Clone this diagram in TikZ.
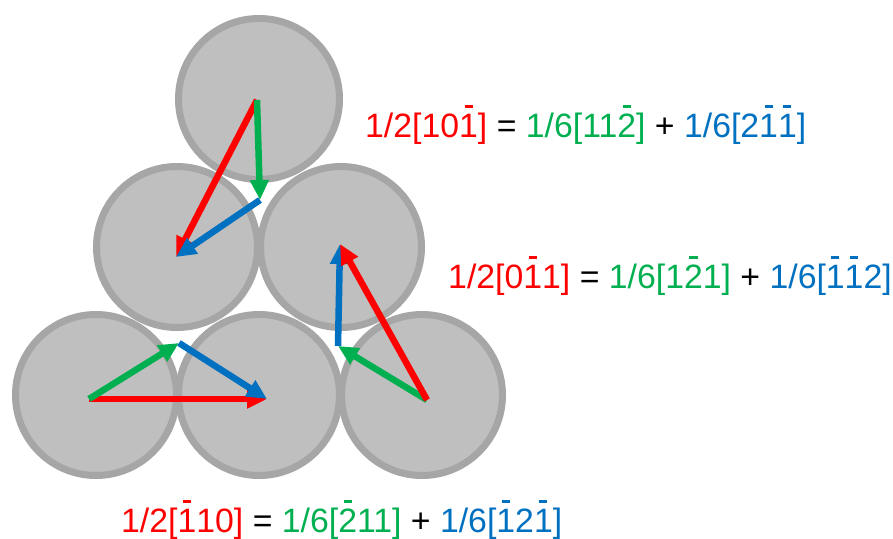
\documentclass[tikz,border=0pt]{standalone}
\usepackage{fontspec}
\setmainfont{Liberation Sans}
\usepackage{xcolor}
\usetikzlibrary{arrows.meta}

\definecolor{vred}{HTML}{FF0000}
\definecolor{vgreen}{HTML}{00B050}
\definecolor{vblue}{HTML}{0070C0}
\definecolor{atomfill}{HTML}{BFBFBF}
\definecolor{atomline}{HTML}{A6A6A6}

% overbar on one digit
\newcommand{\ovr}[1]{\ooalign{#1\cr\hidewidth\raisebox{0.87em}{\rule{0.24em}{0.08em}}\hidewidth\cr}}

\tikzset{
    atom/.style={draw=atomline, fill=atomfill, circle, line width=7pt, minimum size=161pt, inner sep=0pt},
    vec/.style={line width=6.5pt, -{Triangle[length=20pt,width=18pt]}},
    eq/.style={anchor=base west, inner sep=0pt, font=\fontsize{33.8}{40}\selectfont}
}

\begin{document}
\begin{tikzpicture}[x=1pt, y=-1pt]
    \useasboundingbox (0,0) rectangle (893,538);

    % atoms
    \foreach \n/\x/\y in {c1/96/395, c2/259/395, c3/422/395, c4/177/247, c5/341/247, c6/259/99} {
        \node[atom] (\n) at (\x,\y) {};
    }

    % vector end points
    \coordinate (t0) at (257,100);
    \coordinate (t1) at (260,200);
    \coordinate (t2) at (176,257);
    \coordinate (b0) at (89,399);
    \coordinate (b1) at (179,343);
    \coordinate (b2) at (267,399);
    \coordinate (r0) at (427,400);
    \coordinate (r1) at (338,346);
    \coordinate (r2) at (340,244);

    % top triangle
    \draw[vec, vred] (t0) -- (t2);
    \draw[vec, vgreen] (t0) -- (t1);
    \draw[vec, vblue] (t1) -- (t2);

    % bottom triangle
    \draw[vec, vred] (b0) -- (b2);
    \draw[vec, vgreen] (b0) -- (b1);
    \draw[vec, vblue] (b1) -- (b2);

    % right triangle
    \draw[vec, vblue] (r1) -- (r2);
    \draw[vec, vgreen] (r0) -- (r1);
    \draw[vec, vred] (r0) -- (r2);

    % equations
    \node[eq] (e1) at (365,137) {{\color{vred}1/2[10\ovr{1}]} = {\color{vgreen}1/6[11\ovr{2}]} + {\color{vblue}1/6[2\ovr{1}\ovr{1}]}};
    \node[eq] (e2) at (448,288) {{\color{vred}1/2[0\ovr{1}1]} = {\color{vgreen}1/6[1\ovr{2}1]} + {\color{vblue}1/6[\ovr{1}\ovr{1}2]}};
    \node[eq] (e3) at (121,532) {{\color{vred}1/2[\ovr{1}10]} = {\color{vgreen}1/6[\ovr{2}11]} + {\color{vblue}1/6[\ovr{1}2\ovr{1}]}};
\end{tikzpicture}
\end{document}
